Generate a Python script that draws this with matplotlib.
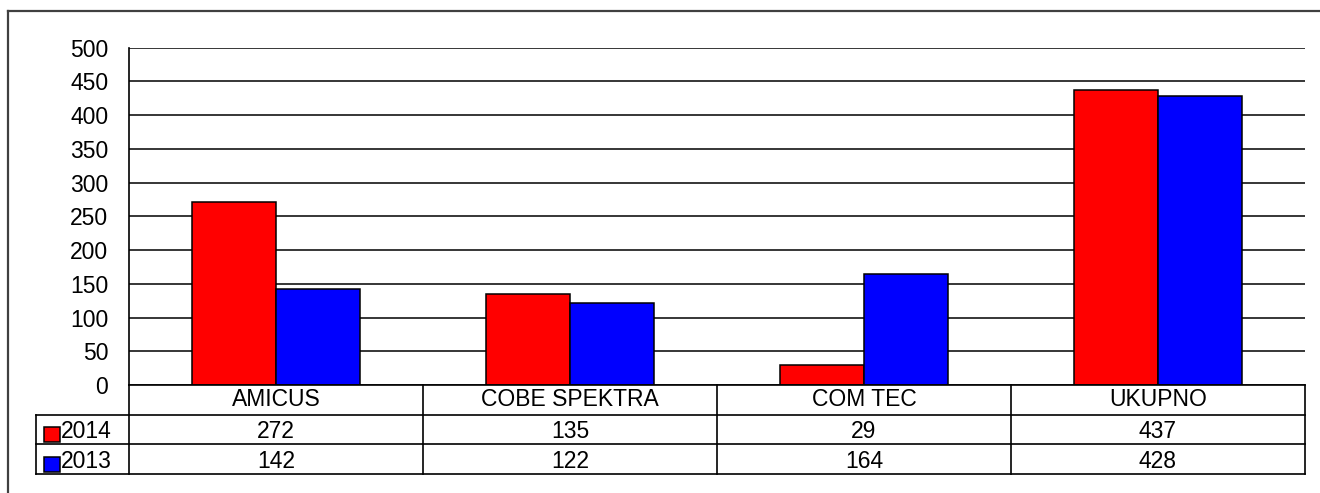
import matplotlib
matplotlib.use("Agg")
import matplotlib.pyplot as plt
from matplotlib.patches import Rectangle
from matplotlib.lines import Line2D

categories = ["AMICUS", "COBE SPEKTRA", "COM TEC", "UKUPNO"]
series_names = ["2014", "2013"]
values_2014 = [272, 135, 29, 437]
values_2013 = [142, 122, 164, 428]
series_values = [values_2014, values_2013]
colors = ["#FF0000", "#0000FF"]
yticks = list(range(0, 501, 50))

plt.rcParams['font.family'] = ['Liberation Sans', 'DejaVu Sans']
FS = 16.5

W, H = 1320, 493
fig = plt.figure(figsize=(W / 100, H / 100), dpi=100)

def fx(px):
    return px / W

def fy(py):
    return 1 - py / H

# outer border
fig.add_artist(Line2D([fx(8), fx(8)], [0, fy(11)], transform=fig.transFigure,
                      color="#404040", lw=1.6))
fig.add_artist(Line2D([fx(8), 1.01], [fy(11), fy(11)], transform=fig.transFigure,
                      color="#404040", lw=1.6))

plot_left, plot_right = 129, 1305
plot_top, plot_bottom = 47.7, 385
ax = fig.add_axes([fx(plot_left), fy(plot_bottom), fx(plot_right - plot_left),
                   fy(plot_top) - fy(plot_bottom)])
ax.set_xlim(0, len(categories))
ax.set_ylim(0, 500)
for s in ["top", "right", "bottom"]:
    ax.spines[s].set_visible(False)
ax.spines["left"].set_linewidth(1.2)
ax.spines["left"].set_color("black")
ax.set_yticks(yticks)
ax.set_yticklabels([str(t) for t in yticks], fontsize=FS)
ax.tick_params(axis="y", length=0, pad=15)
ax.set_xticks([])
for t in yticks:
    ax.axhline(t, color="black", lw=1.1, zorder=1)

bw = 1 / 3.5
for si, (vals, col) in enumerate(zip(series_values, colors)):
    offs = -bw / 2 if si == 0 else bw / 2
    ax.bar([i + 0.5 + offs for i in range(len(categories))], vals, width=bw,
           color=col, edgecolor="black", linewidth=1.1, zorder=3)

# data table
tab_left, tab_top, tab_bottom = 36, 385, 474
unit = (plot_right - plot_left) / len(categories)
lc = (plot_left - tab_left) / unit
tax = fig.add_axes([fx(tab_left), fy(tab_bottom), fx(plot_right - tab_left),
                    fy(tab_top) - fy(tab_bottom)])
tax.set_xlim(-lc, len(categories))
tax.set_ylim(3, 0)
tax.axis("off")
lk = dict(color="black", lw=1.2, clip_on=False)
tax.plot([0, len(categories)], [0, 0], **lk)
for r in [1, 2, 3]:
    tax.plot([-lc, len(categories)], [r, r], **lk)
tax.plot([-lc, -lc], [1, 3], **lk)
for c in range(len(categories) + 1):
    tax.plot([c, c], [0, 3], **lk)

for i, cat in enumerate(categories):
    tax.text(i + 0.5, 0.5, cat, ha="center", va="center", fontsize=FS)
for si, (name, vals, col) in enumerate(zip(series_names, series_values, colors)):
    row = si + 1
    for i, v in enumerate(vals):
        tax.text(i + 0.5, row + 0.57, str(v), ha="center", va="center", fontsize=FS)
    sq_w = 16 / unit
    tax.add_patch(Rectangle((-lc + 8 / unit, row + 0.42), sq_w, 0.5, facecolor=col,
                            edgecolor="black", lw=1.1, clip_on=False))
    tax.text(-lc + 25 / unit, row + 0.57, name, ha="left", va="center", fontsize=FS)

fig.savefig("out.png", dpi=100)
